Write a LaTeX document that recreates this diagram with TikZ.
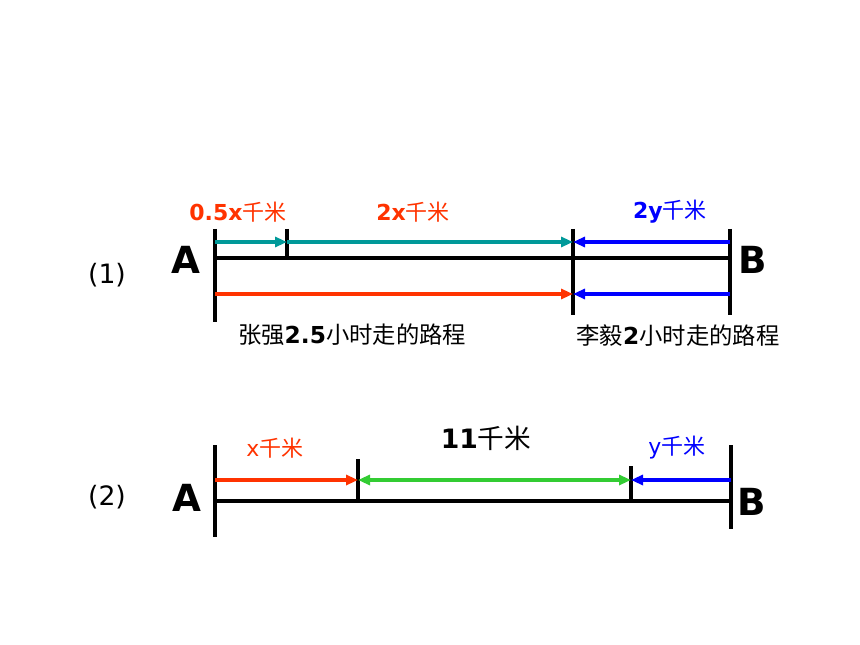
\documentclass[tikz,border=0pt]{standalone}
\usepackage{fontspec}
\setmainfont{DejaVu Sans}
\newfontfamily\cjk{Noto Sans CJK SC}
\usetikzlibrary{arrows.meta}
\definecolor{rouge}{RGB}{255,51,0}
\definecolor{teal}{RGB}{0,153,153}
\definecolor{bleu}{RGB}{0,0,255}
\definecolor{vert}{RGB}{51,204,51}
\tikzset{
	seg/.style={line width=2.4pt},
	walk/.style={line width=2.6pt},
	lbl/.style={inner sep=0pt, font=\fontsize{16.5}{18}\selectfont},
	pt/.style={inner sep=0pt, font=\fontsize{28}{30}\selectfont\bfseries}
}
\newcommand{\qm}{{\cjk 千米}}
\begin{document}
\begin{tikzpicture}[x=0.75pt, y=-0.75pt, line join=round, >={Triangle[length=9pt,width=7.5pt]}]
	\useasboundingbox (0,0) rectangle (860,645);
	% (1)
	\coordinate (a1) at (215,258); \coordinate (b1) at (730,258);
	\coordinate (p1) at (287,258); \coordinate (m1) at (573,258);
	\draw[seg] (215,229)--(215,322);
	\draw[seg] (730,229)--(730,315);
	\draw[seg] (573,229)--(573,315);
	\draw[seg] (287,229)--(p1);
	\draw[seg] (a1)--(b1);
	\coordinate (t0) at (215,242); \coordinate (t1) at (287,242); \coordinate (t2) at (573,242); \coordinate (t3) at (730,242);
	\coordinate (r0) at (215,294); \coordinate (r1) at (573,294); \coordinate (r2) at (730,294);
	\draw[walk,teal,->] (t0)--(t1);
	\draw[walk,teal,->] (t1)--(t2);
	\draw[walk,bleu,->] (t3)--(t2);
	\draw[walk,rouge,->] (r0)--(r1);
	\draw[walk,bleu,->] (r2)--(r1);
	\node[pt] (A1) at (186,260) {A};
	\node[pt] (B1) at (753,260) {B};
	\node[inner sep=0pt, font=\fontsize{20}{22}\selectfont] (n1) at (107,275) {(1)};
	\node[lbl,rouge] (l05) at (238,212) {\textbf{0.5x}\qm};
	\node[lbl,rouge] (l2x) at (413,212) {\textbf{2x}\qm};
	\node[lbl,bleu] (l2y) at (670,212) {\textbf{2y}\qm};
	\node[lbl,font=\fontsize{17.5}{19}\selectfont] (zq) at (352,335) {{\cjk 张强}\textbf{2.5}{\cjk 小时走的路程}};
	\node[lbl,font=\fontsize{17.5}{19}\selectfont] (ly) at (678,336) {{\cjk 李毅}\textbf{2}{\cjk 小时走的路程}};
	% (2)
	\coordinate (a2) at (215,501); \coordinate (b2) at (731,501);
	\coordinate (p2) at (358,501); \coordinate (q2) at (631,501);
	\draw[seg] (215,445)--(215,537);
	\draw[seg] (731,445)--(731,529);
	\draw[seg] (358,459)--(p2);
	\draw[seg] (631,466)--(q2);
	\draw[seg] (a2)--(b2);
	\coordinate (s0) at (215,480); \coordinate (s1) at (358,480); \coordinate (s2) at (631,480); \coordinate (s3) at (731,480);
	\draw[walk,rouge,->] (s0)--(s1);
	\draw[walk,vert,<->] (s1)--(s2);
	\draw[walk,bleu,->] (s3)--(s2);
	\node[pt] (A2) at (187,498) {A};
	\node[pt] (B2) at (752,502) {B};
	\node[inner sep=0pt, font=\fontsize{20}{22}\selectfont] (n2) at (107,497) {(2)};
	\node[lbl,rouge] (lx) at (275,448) {x\qm};
	\node[lbl,font=\fontsize{20}{22}\selectfont] (l11) at (486,438) {\textbf{11}\qm};
	\node[lbl,bleu] (lyy) at (677,448) {y\qm};
\end{tikzpicture}
\end{document}
